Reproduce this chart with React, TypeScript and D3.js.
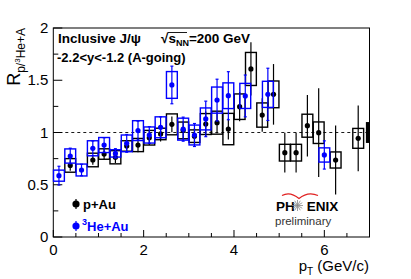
import React from 'react';
import * as d3 from 'd3';

// 3He+Au (blue)
const heAuPt = [0.125, 0.375, 0.625, 0.875, 1.125, 1.375, 1.625, 1.875, 2.125, 2.375, 2.625, 2.875, 3.125, 3.375, 3.625, 3.875, 4.25, 4.75, 6.0];
const heAuR = [0.587, 0.775, 0.641, 0.849, 0.88, 0.8, 0.896, 1.018, 0.976, 1.05, 1.455, 1.032, 0.976, 1.13, 1.31, 1.352, 1.35, 1.365, 0.785];
const heAuStat = [0.09, 0.075, 0.055, 0.07, 0.07, 0.045, 0.085, 0.09, 0.08, 0.1, 0.18, 0.115, 0.11, 0.17, 0.2, 0.23, 0.2, 0.25, 0.135];
const heAuSys = [0.053, 0.068, 0.057, 0.072, 0.072, 0.035, 0.08, 0.095, 0.077, 0.1, 0.128, 0.105, 0.095, 0.105, 0.125, 0.123, 0.12, 0.125, 0.068];

// p+Au (black)
const pAuPt = [0.375, 0.875, 1.125, 1.375, 1.625, 1.875, 2.125, 2.375, 2.625, 2.875, 3.125, 3.375, 3.625, 3.875, 4.125, 4.375, 4.625, 4.875, 5.125, 5.375, 5.625, 5.875, 6.25, 6.75];
const pAuR = [0.685, 0.737, 0.794, 0.763, 0.871, 0.88, 0.95, 0.986, 1.078, 1.02, 0.965, 1.081, 1.094, 1.033, 1.247, 1.608, 1.167, 1.365, 0.807, 0.807, 1.065, 0.998, 0.737, 0.944];
const pAuStat = [0.05, 0.045, 0.05, 0.055, 0.055, 0.07, 0.07, 0.072, 0.075, 0.085, 0.08, 0.12, 0.1, 0.1, 0.14, 0.255, 0.16, 0.29, 0.19, 0.19, 0.295, 0.425, 0.33, 0.315];
const pAuSys = [0.065, 0.065, 0.05, 0.063, 0.05, 0.063, 0.07, 0.055, 0.1, 0.08, 0.06, 0.1, 0.11, 0.15, 0.122, 0.158, 0.116, 0.128, 0.08, 0.08, 0.11, 0.103, 0.077, 0.095];

const globalSys = 0.1;
const xLabels = [0, 2, 4, 6];
const yLabels = [0, 0.5, 1, 1.5, 2];

const FONT = 'Liberation Sans, Arial, Helvetica, sans-serif';

const x = d3.scaleLinear().domain([0, 7]).range([53.3, 369.5]);
const y = d3.scaleLinear().domain([0, 2]).range([237, 28]);
const halfBin = 0.12;

function Series({ pt, r, stat, sys, color, caps }) {
    return (
        <g>
            {pt.map((p, i) => (
                <rect key={'b' + i}
                    x={x(p - halfBin)} y={y(r[i] + sys[i])}
                    width={x(p + halfBin) - x(p - halfBin)}
                    height={y(r[i] - sys[i]) - y(r[i] + sys[i])}
                    fill="none" stroke={color} strokeWidth={1.4} />
            ))}
            {pt.map((p, i) => (
                <g key={'e' + i} stroke={color} strokeWidth={1.2}>
                    <line x1={x(p)} x2={x(p)} y1={y(r[i] + stat[i])} y2={y(r[i] - stat[i])} />
                    {caps && <line x1={x(p) - 1.5} x2={x(p) + 1.5} y1={y(r[i] + stat[i])} y2={y(r[i] + stat[i])} />}
                    {caps && <line x1={x(p) - 1.5} x2={x(p) + 1.5} y1={y(r[i] - stat[i])} y2={y(r[i] - stat[i])} />}
                </g>
            ))}
            {pt.map((p, i) => (
                <circle key={'p' + i} cx={x(p)} cy={y(r[i])} r={2.6} fill={color} />
            ))}
        </g>
    );
}

export default function App() {
    const xTicks = d3.range(0, 7.01, 0.5);
    const yTicks = d3.range(0, 2.01, 0.25);
    const starRays = d3.range(0, 12).map(k => (k * Math.PI) / 6);

    return (
        <svg width={411} height={279} style={{ position: 'absolute', left: 0, top: 0, background: '#fff' }} fontFamily={FONT}>
            {/* frame */}
            <rect x={x(0)} y={y(2)} width={x(7) - x(0)} height={y(0) - y(2)} fill="none" stroke="#000" strokeWidth={1} />

            {/* ticks */}
            {xTicks.map(t => (
                <line key={'xt' + t} x1={x(t)} x2={x(t)} y1={y(0)} y2={y(0) - (t % 2 === 0 ? 7 : 4)} stroke="#000" />
            ))}
            {yTicks.map(t => (
                <line key={'yt' + t} x1={x(0)} x2={x(0) + (t % 0.5 === 0 ? 9 : 5)} y1={y(t)} y2={y(t)} stroke="#000" />
            ))}
            {xLabels.map(t => (
                <text key={'xl' + t} x={x(t)} y={255} fontSize={15} textAnchor="middle">{t}</text>
            ))}
            {yLabels.map(t => (
                <text key={'yl' + t} x={x(0) - 5} y={y(t) + 5} fontSize={15} textAnchor="end">{t}</text>
            ))}

            {/* axis titles */}
            <text x={369} y={271} fontSize={15} textAnchor="end">
                p<tspan fontSize={10} dy={4}>T</tspan><tspan dy={-4}> (GeV/c)</tspan>
            </text>
            <text transform={`translate(20,28) rotate(-90)`} textAnchor="end">
                <tspan fontSize={18}>R</tspan>
                <tspan fontSize={12} dy={5}>p/</tspan>
                <tspan fontSize={8} dy={-5}>3</tspan>
                <tspan fontSize={12} dy={5}>He+A</tspan>
            </text>

            {/* reference line at 1 */}
            <line x1={x(0)} x2={x(7)} y1={y(1)} y2={y(1)} stroke="#000" strokeWidth={0.9} strokeDasharray="3,3" />

            {/* global uncertainty */}
            <rect x={x(6.92)} y={y(1 + globalSys)} width={x(7) - x(6.92)} height={y(1 - globalSys) - y(1 + globalSys)} fill="#000" />

            <Series pt={pAuPt} r={pAuR} stat={pAuStat} sys={pAuSys} color="#000" caps={false} />
            <Series pt={heAuPt} r={heAuR} stat={heAuStat} sys={heAuSys} color="#0000ff" caps={true} />

            {/* header text */}
            <text x={58} y={43} fontSize={13.5} fontWeight="bold">
                Inclusive J/ψ
            </text>
            <text x={161} y={43} fontSize={13.5} fontWeight="bold">
                √<tspan>s</tspan><tspan fontSize={9} dy={3}>NN</tspan><tspan dy={-3}>=200 GeV</tspan>
            </text>
            <line x1={168} x2={187} y1={32.5} y2={32.5} stroke="#000" strokeWidth={0.9} />
            <text x={57} y={62} fontSize={13} fontWeight="bold">-2.2&lt;y&lt;-1.2 (A-going)</text>

            {/* legend */}
            <circle cx={76} cy={204} r={3.6} fill="#000" />
            <line x1={76} x2={76} y1={199} y2={209} stroke="#000" strokeWidth={1.2} />
            <text x={83} y={208.5} fontSize={13} fontWeight="bold">p+Au</text>
            <circle cx={76} cy={226} r={3.6} fill="#0000ff" />
            <line x1={76} x2={76} y1={221} y2={231} stroke="#0000ff" strokeWidth={1.2} />
            <text x={82} y={231} fontSize={13} fontWeight="bold" fill="#0000ff">
                <tspan fontSize={9} dy={-6}>3</tspan><tspan dy={6}>He+Au</tspan>
            </text>

            {/* PHENIX preliminary */}
            <path d="M282,195.5 Q290,191 299,198.5 Q308,191 318,195.5" fill="none" stroke="#e02020" strokeWidth={1.2} />
            <text x={276} y={210.5} fontSize={13.5} fontWeight="bold">
                PH<tspan dx={12}>ENIX</tspan>
            </text>
            <g stroke="#888" strokeWidth={0.8}>
                {starRays.map((a, k) => (
                    <line key={'s' + k} x1={297.5} y1={205.5} x2={297.5 + 5.5 * Math.cos(a)} y2={205.5 + 5.5 * Math.sin(a)} />
                ))}
            </g>
            <text x={275} y={224.5} fontSize={11.5} fill="#333">preliminary</text>
        </svg>
    );
}
